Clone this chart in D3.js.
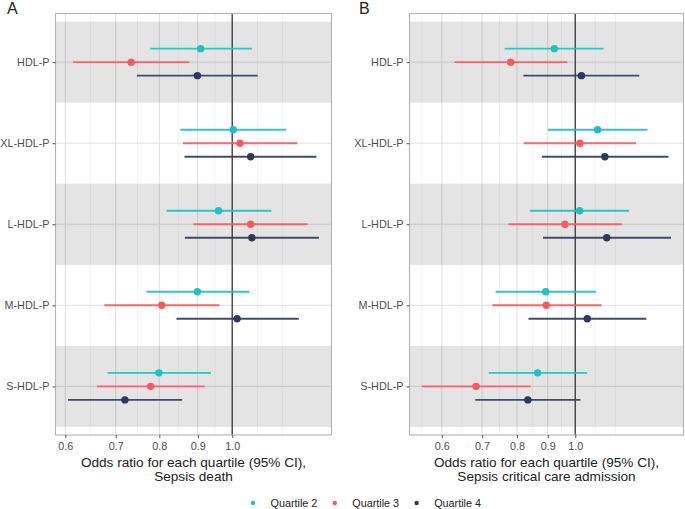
<!DOCTYPE html>
<html><head><meta charset="utf-8">
<script src="https://cdn.jsdelivr.net/npm/d3@7"></script>
<style>body{margin:0;background:#fff}svg{display:block;font-family:"Liberation Sans",Arial,sans-serif}</style>
</head><body><svg id="c" width="685" height="509"></svg>
<script>
const categories = ["HDL-P","XL-HDL-P","L-HDL-P","M-HDL-P","S-HDL-P"];
const quartiles = ["Quartile 2","Quartile 3","Quartile 4"];
const colors = ["#1fbfc3","#fa5a5e","#2c3a5b"];
const xTicks = [0.6,0.7,0.8,0.9,1.0];

// Panel A: Sepsis death
const deathQ2 = [0.908,1.003,0.959,0.899,0.799];
const deathQ2Low = [0.778,0.853,0.818,0.769,0.683];
const deathQ2High = [1.062,1.179,1.127,1.054,0.937];
const deathQ3 = [0.734,1.024,1.058,0.806,0.779];
const deathQ3Low = [0.614,0.860,0.888,0.676,0.661];
const deathQ3High = [0.877,1.221,1.260,0.962,0.919];
const deathQ4 = [0.899,1.058,1.062,1.015,0.720];
const deathQ4Low = [0.747,0.864,0.865,0.843,0.605];
const deathQ4High = [1.081,1.294,1.304,1.226,0.858];

// Panel B: Sepsis critical care admission
const ccQ2 = [0.923,1.089,1.017,0.893,0.866];
const ccQ2Low = [0.763,0.900,0.840,0.737,0.718];
const ccQ2High = [1.115,1.319,1.229,1.082,1.047];
const ccQ3 = [0.781,1.018,0.961,0.895,0.684];
const ccQ3Low = [0.630,0.821,0.774,0.728,0.556];
const ccQ3High = [0.970,1.262,1.195,1.106,0.843];
const ccQ4 = [1.024,1.120,1.128,1.047,0.834];
const ccQ4Low = [0.820,0.880,0.884,0.836,0.682];
const ccQ4High = [1.278,1.429,1.443,1.313,1.020];

function rows(ors, lows, highs){
  const out=[];
  ors.forEach((s,qi)=>{ s.forEach((v,ci)=>out.push({cat:categories[ci],q:qi,or:v,lo:lows[qi][ci],hi:highs[qi][ci]})); });
  return out;
}
const panels = [
  {tag:"A", title:["Odds ratio for each quartile (95% CI),","Sepsis death"], x0:55.5, x1:331.5,
   data: rows([deathQ2,deathQ3,deathQ4],[deathQ2Low,deathQ3Low,deathQ4Low],[deathQ2High,deathQ3High,deathQ4High])},
  {tag:"B", title:["Odds ratio for each quartile (95% CI),","Sepsis critical care admission"], x0:409.5, x1:683.5,
   data: rows([ccQ2,ccQ3,ccQ4],[ccQ2Low,ccQ3Low,ccQ4Low],[ccQ2High,ccQ3High,ccQ4High])}
];
const yTop=13.5, yBot=435;
const svg = d3.select("#c");

panels.forEach((p,pi)=>{
  const lo = d3.min(p.data,d=>d.lo), hi = d3.max(p.data,d=>d.hi);
  const l0=Math.log(lo), l1=Math.log(hi), pad=(l1-l0)*0.05;
  const x = d3.scaleLog().domain([Math.exp(l0-pad),Math.exp(l1+pad)]).range([p.x0,p.x1]);
  const y = d3.scalePoint().domain(categories).range([yTop,yBot]).padding(0.6);
  const step = y.step();
  const g = svg.append("g");
  const b = xTicks.map(Math.log);
  const bd = b[1]-b[0];
  const ext = [...b];
  const [dl0,dl1] = x.domain().map(Math.log);
  if (dl0 < b[0]) ext.unshift(b[0]-bd);
  if (dl1 > b[b.length-1]) ext.push(b[b.length-1]+bd);
  const minor=[];
  for(let i=0;i<ext.length-1;i++){ minor.push(ext[i]); minor.push((ext[i]+ext[i+1])/2); }
  minor.push(ext[ext.length-1]);
  const minorIn = minor.filter(v=>v>=dl0&&v<=dl1 && !b.some(m=>Math.abs(m-v)<1e-9));
  g.selectAll(".mn").data(minorIn).join("line")
    .attr("x1",v=>x(Math.exp(v))).attr("x2",v=>x(Math.exp(v))).attr("y1",yTop).attr("y2",yBot)
    .attr("stroke","#ececec").attr("stroke-width",0.6);
  g.selectAll(".mjx").data(xTicks).join("line")
    .attr("x1",d=>x(d)).attr("x2",d=>x(d)).attr("y1",yTop).attr("y2",yBot)
    .attr("stroke","#e0e0e0").attr("stroke-width",1);
  g.selectAll(".mjy").data(categories).join("line")
    .attr("x1",p.x0).attr("x2",p.x1).attr("y1",d=>y(d)).attr("y2",d=>y(d))
    .attr("stroke","#e0e0e0").attr("stroke-width",1);
  g.selectAll(".band").data(categories.filter((c,i)=>i%2===0)).join("rect")
    .attr("x",p.x0).attr("width",p.x1-p.x0)
    .attr("y",d=>y(d)-step/2).attr("height",step)
    .attr("fill","#000").attr("fill-opacity",0.105);
  g.append("line").attr("x1",x(1)).attr("x2",x(1)).attr("y1",yTop).attr("y2",yBot)
    .attr("stroke","#444").attr("stroke-width",1.4);
  const off = q => (q-1)*step/6;
  g.selectAll(".ci").data(p.data).join("line")
    .attr("x1",d=>x(d.lo)).attr("x2",d=>x(d.hi))
    .attr("y1",d=>y(d.cat)+off(d.q)).attr("y2",d=>y(d.cat)+off(d.q))
    .attr("stroke",d=>colors[d.q]).attr("stroke-width",1.9).attr("stroke-opacity",0.9);
  g.selectAll(".pt").data(p.data).join("circle")
    .attr("cx",d=>x(d.or)).attr("cy",d=>y(d.cat)+off(d.q)).attr("r",3.7)
    .attr("fill",d=>colors[d.q]);
  g.append("rect").attr("x",p.x0).attr("y",yTop).attr("width",p.x1-p.x0).attr("height",yBot-yTop)
    .attr("fill","none").attr("stroke","#b3b3b3").attr("stroke-width",1.1);
  const ya = g.append("g").attr("transform",`translate(${p.x0},0)`)
    .call(d3.axisLeft(y).tickSize(3).tickPadding(3));
  const xa = g.append("g").attr("transform",`translate(0,${yBot})`)
    .call(d3.axisBottom(x).tickValues(xTicks).tickFormat(d3.format(".1f")).tickSize(3).tickPadding(4));
  [ya,xa].forEach(a=>{
    a.select(".domain").remove();
    a.selectAll(".tick line").attr("stroke","#555");
    a.selectAll("text").attr("fill","#4d4d4d").style("font-size","10.8px").style("font-family","Liberation Sans, Arial, sans-serif");
  });
  const cx=(p.x0+p.x1)/2;
  p.title.forEach((t,i)=>svg.append("text").attr("x",cx).attr("y",467+i*13.8).attr("text-anchor","middle")
    .attr("fill","#222").style("font-size","13.6px").text(t));
  svg.append("text").attr("x",pi===0?7:359).attr("y",14).attr("fill","#222").style("font-size","16px").text(p.tag);
});

const lg = svg.append("g");
const items = lg.selectAll("g").data(quartiles).join("g");
items.append("circle").attr("r",2.2).attr("fill",(d,i)=>colors[i]);
items.append("text").attr("x",17.5).attr("y",3.8).attr("fill","#222").style("font-size","10.8px").text(d=>d);
let xpos=0; const gap=17.5;
items.each(function(){ const w=this.querySelector("text").getComputedTextLength()+17.5; d3.select(this).attr("transform",`translate(${xpos},0)`); xpos+=w+gap; });
lg.attr("transform",`translate(253,503)`);
</script></body></html>
